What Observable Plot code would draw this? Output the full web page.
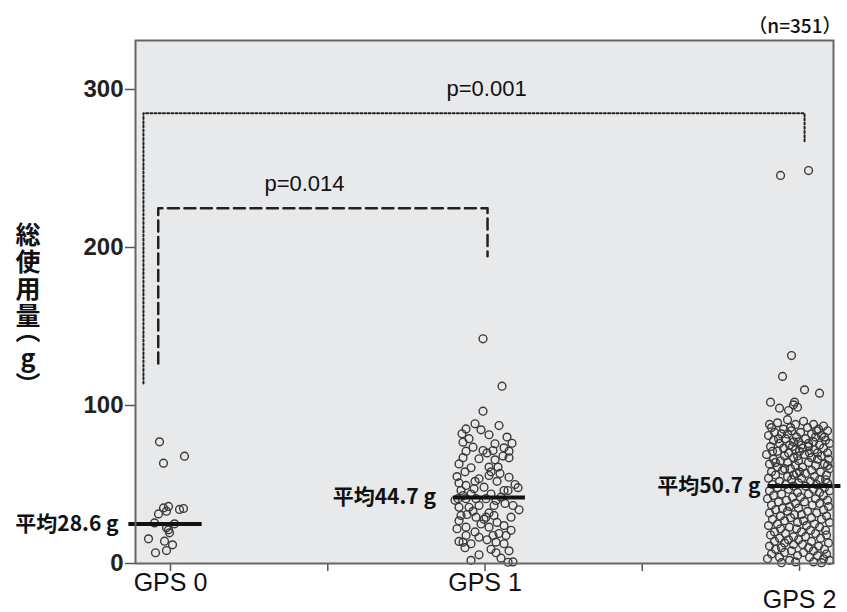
<!DOCTYPE html>
<html>
<head>
<meta charset="utf-8">
<script src="https://cdn.jsdelivr.net/npm/d3@7"></script>
<script src="https://cdn.jsdelivr.net/npm/@observablehq/plot@0.6"></script>
<style>
  body { margin: 0; background: #fff; }
  #wrap { position: relative; width: 847px; height: 612px; }
  #ytitle {
    position: absolute; left: 14px; top: 222px; width: 28px;
    writing-mode: vertical-rl; text-orientation: upright;
    font: bold 25px 'Noto Sans CJK JP', 'Noto Sans', sans-serif;
    letter-spacing: 2px; line-height: 28px; color: #111;
  }
  #ytitle .p { font-feature-settings: "vhal" 1; }
</style>
</head>
<body>
<div id="wrap"><div id="ytitle"></div></div>
<script>
// ---- data ----
const categories = ["GPS 0", "GPS 1", "GPS 2"];
const meanLabels = ["平均28.6 g", "平均44.7 g", "平均50.7 g"];
const meanLineValues = [25.0, 41.8, 49.0];
const yTicks = [0, 100, 200, 300];
const nLabel = "（n=351）";
const yTitleMain = "総使用量";
const yTitleUnit = ["（", "g", "）"];

const gps0Values = [77.0, 63.5, 67.9, 35.2, 36.1, 33.1, 31.4, 34.2, 34.8, 25.7, 25.1, 22.6, 19.4, 21.3, 15.6, 14.1, 11.8, 6.8, 8.2];
const gps0Jitter = [-11, -7, 14, -7, -2, -4, -12, 9, 13, -16, 4, -4, -1, -2, -22, -6, 2, -15, -4];

const gps1Values = [142.2, 112.2, 96.4, 87.3, 82.1, 85.2, 88.4, 84.6, 81.5, 76.8, 73.6, 71.1, 71.5, 75.8, 76.1, 73.2, 71.1, 71.5, 66.9, 66.3, 65.6, 60.6, 61.0, 61.0,
  53.6, 55.7, 54.6, 49.4, 46.2, 47.3, 48.3, 46.2, 46.2, 41, 41, 41, 41, 39.9, 35.6, 35.6, 36.7, 36.7, 36.7, 30.4, 29.3, 29.3, 30.4, 29.3, 23, 23, 24, 17.7, 16.6, 17.7, 17.7, 13.5, 12.5, 13.5, 12.5, 5.5, 6.8, 3.4, 0.8,
  58, 57, 52, 51, 50, 44, 44, 43, 42, 38, 33, 32, 31, 27, 26, 25, 21, 20, 19, 15, 14, 10, 9, 8, 2, 1, 63, 68, 79, 80, 70, 55, 48, 40, 34, 28, 22, 67, 58, 52];
const gps1Jitter = [-2, 17, -2, 14, -23, -19, -10, -4, 4, -22, -12, -19, -2, 10, 27, 19, 24, 8, 24, -6, 10, -14, 4, 13,
  -6, 4, 24, -19, -24, -11, -1, 19, 23, -27, -19, -9, 1, 11, -26, -16, -6, 9, 28, -24, -9, 1, 9, 26, -19, 4, 19, -19, -6, 8, 21, -22, -14, 11, 19, -6, 11, 16, 23,
  -20, 15, 12, -26, 30, -14, 6, -22, 16, 20, -12, 4, -18, -26, 12, -4, 26, -10, 14, 2, -26, -20, 6, 24, -14, 28, -26, 18, -16, 22, 2, -28, 33, -30, 34, -1, -28, -22, 6, -10];

const gps2Values = [248.7, 245.6, 131.6, 118.4, 109.9, 107.8, 102.1, 98.3, 96.8, 102.1, 98.9, 100.4,
  91, 90, 89, 88, 88, 87, 86, 86, 85, 85,
  84, 84, 83, 83, 82, 82, 81, 81, 80, 80,
  79, 79, 78, 78, 77, 77, 76, 76, 75, 75, 75,
  74, 74, 73, 73, 72, 72, 71, 71, 70, 70, 70,
  69, 69, 68, 68, 67, 67, 66, 66, 65, 65,
  64, 64, 63, 63, 62, 62, 61, 61, 60, 60,
  59, 59, 58, 58, 57, 57, 56, 56, 55, 55,
  54, 54, 53, 53, 52, 52, 51, 51, 50, 50, 50,
  49, 49, 48, 48, 47, 47, 46, 46, 45, 45,
  44, 44, 43, 43, 42, 42, 41, 41, 40, 40,
  39, 39, 38, 38, 37, 37, 36, 36, 35, 35,
  34, 34, 33, 33, 32, 32, 31, 31, 30, 30,
  29, 29, 28, 28, 27, 27, 26, 26, 25, 25,
  24, 24, 23, 23, 22, 22, 21, 21, 20, 20,
  19, 19, 18, 18, 17, 17, 16, 16, 15, 15,
  14, 14, 13, 13, 12, 12, 11, 11, 10, 10,
  9, 9, 8, 8, 7, 7, 6, 6, 5, 5,
  4, 4, 3, 3, 2, 2, 1, 1, 0.5, 0.5,
  88, 86, 84, 82, 80, 79, 77, 76, 74, 73, 71, 70, 68, 66, 64, 62, 60, 58, 56, 53];
const gps2Jitter = [9, -19, -8, -17, 5, 20, -29, -20, -11, -5, -2, -6,
  -12, 4, -22, 14, -4, 24, -28, 8, -16, 19,
  -8, 28, -25, 1, 12, -18, 22, -31, -3, 16,
  -14, 6, 26, -26, -6, 14, -20, 30, 2, -10, 20,
  -29, 9, -16, 24, -4, 15, -22, 0, -11, 28, 18,
  -33, 5, -15, 22, -6, 12, -26, 29, -1, -19,
  9, -12, 25, -30, -4, 16, -22, 3, 30, -9,
  -17, 12, -28, 21, -3, 6, 27, -24, -12, 15,
  -31, 2, 20, -8, -20, 11, 28, -1, -27, 17, -14,
  6, -6, 25, -22, -11, 14, -30, 30, -2, 20,
  -18, 9, -26, 24, -7, 1, 16, -32, -13, 28,
  -21, 5, 20, -4, -28, 13, -10, 29, -17, -1,
  24, -24, 8, -12, -30, 17, -5, 2, 27, -19,
  -9, 12, -27, 22, -15, 4, 30, -2, -22, 15,
  -31, 7, -10, 20, -19, -3, 26, 11, -25, 2,
  -14, 16, -29, 27, -6, 6, -20, 21, -11, -1,
  12, -25, 29, -15, 3, -6, -30, 19, -18, 9,
  -24, 25, -8, 14, -15, 4, 27, -28, -2, 18,
  -20, 10, -32, 24, -10, 30, -4, 14, 22, -18,
  -30, -9, 17, -12, 25, -21, -1, 9, -7, 3, -27, 10, -2, 18, -24, 28, -15, 0, -6, 26];

// brackets (group position, value)
const bracket014X = [-0.039, -0.039, 1.008, 1.008];
const bracket014Y = [126.6, 224.9, 224.9, 194.5];
const bracket001X = [-0.086, -0.086, 2.016, 2.016];
const bracket001Y = [113.9, 285.0, 285.0, 266.5];
const pLabels = ["p=0.014", "p=0.001"];
const pLabelX = [0.426, 1.005];
const pLabelY = [240, 300.5];

// ---- build tables ----
const valueSets = [gps0Values, gps1Values, gps2Values];
const jitterSets = [gps0Jitter, gps1Jitter, gps2Jitter];
const jitterUnit = 1 / 314.5;
const points = valueSets.flatMap((vals, g) =>
  vals.map((v, k) => ({ g, value: v, x: g + jitterSets[g][k] * jitterUnit })));
const meanSpan = [[-0.134, 0.099], [-0.102, 0.127], [-0.102, 0.130]];
const labelEnd = [-0.165, -0.156, -0.124];
const means = categories.map((c, g) => ({
  x1: g + meanSpan[g][0], x2: g + meanSpan[g][1], lx: g + labelEnd[g],
  y: meanLineValues[g], label: meanLabels[g]
}));
const b014 = bracket014X.map((x, i) => ({ x, y: bracket014Y[i] }));
const b001 = bracket001X.map((x, i) => ({ x, y: bracket001Y[i] }));
const pText = pLabels.map((t, i) => ({ t, x: pLabelX[i], y: pLabelY[i] }));
const catRows = categories.map((c, g) => ({ c, g }));

const sans = "'Liberation Sans', Arial, Helvetica, sans-serif";
const cjk = "'Noto Sans CJK JP', 'Noto Sans', sans-serif";

// vertical y-axis title
const yt = document.getElementById("ytitle");
yt.append(yTitleMain);
yTitleUnit.forEach(ch => {
  if (ch === "g") { yt.append(ch); }
  else { const s = document.createElement("span"); s.className = "p"; s.textContent = ch; yt.append(s); }
});

const chart = Plot.plot({
  width: 847,
  height: 612,
  marginLeft: 135,
  marginRight: 14,
  marginTop: 40,
  marginBottom: 49,
  style: { fontFamily: sans, background: "transparent", overflow: "visible" },
  x: { type: "linear", domain: [-0.1113, 2.108], axis: null },
  y: { domain: [0, 331], axis: null },
  marks: [
    Plot.frame({ fill: "#e8e9eb" }),
    Plot.axisY({ ticks: yTicks, tickSize: 10, tickPadding: 2, fontSize: 24, fontWeight: "bold", fill: "#222", stroke: "#555", strokeWidth: 1.5, label: null, tickFormat: d => String(d) }),
    Plot.axisX({ ticks: [0, 0.5, 1, 1.5, 2], tickSize: 8, stroke: "#555", strokeWidth: 1.5, label: null, tickFormat: () => "" }),
    Plot.text(catRows.filter(d => d.g < 2), { x: "g", text: "c", frameAnchor: "bottom", dy: 19, lineAnchor: "middle", fontSize: 25, fill: "#111", fontFamily: sans }),
    Plot.text(catRows.filter(d => d.g === 2), { x: "g", text: "c", frameAnchor: "bottom", dy: 36, lineAnchor: "middle", fontSize: 25, fill: "#111", fontFamily: sans }),
    Plot.line(b001, { x: "x", y: "y", stroke: "#222", strokeWidth: 2, strokeDasharray: "2,2.2" }),
    Plot.line(b014, { x: "x", y: "y", stroke: "#222", strokeWidth: 2.5, strokeDasharray: "11,5.5" }),
    Plot.text(pText, { x: "x", y: "y", text: "t", fontSize: 22, fill: "#111", fontFamily: sans }),
    Plot.dot(points, { x: "x", y: "value", r: 3.9, stroke: "#3a3a3a", strokeWidth: 1.4, fill: "none" }),
    Plot.link(means, { x1: "x1", x2: "x2", y1: "y", y2: "y", stroke: "#111", strokeWidth: 4 }),
    Plot.text(means, { x: "lx", y: "y", text: "label", textAnchor: "end", fontSize: 21, fontWeight: "bold", fill: "#111", fontFamily: cjk }),
    Plot.frame({ stroke: "#666", strokeWidth: 2 }),
    Plot.text([nLabel], { frameAnchor: "top-right", text: d => d, dx: 8, dy: -21, textAnchor: "end", fontSize: 19, fontWeight: 500, fill: "#111", fontFamily: cjk })
  ]
});
document.getElementById("wrap").insertBefore(chart, yt);
</script>
</body>
</html>
